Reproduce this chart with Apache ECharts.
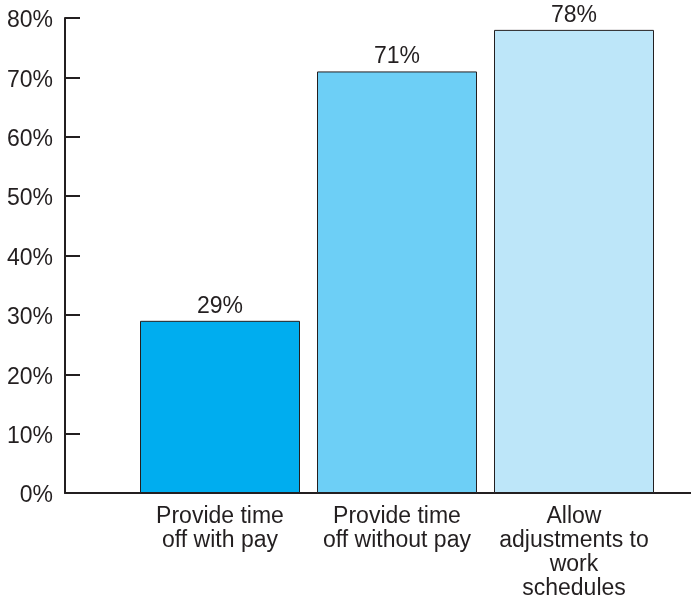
<!DOCTYPE html>
<html>
<head>
<meta charset="utf-8">
<script src="https://cdn.jsdelivr.net/npm/echarts@6/dist/echarts.min.js"></script>
<style>html,body{margin:0;padding:0;background:#fff}#c{width:691px;height:600px}</style>
</head>
<body>
<div id="c"></div>
<script>
const categories = ["Provide time\noff with pay", "Provide time\noff without pay", "Allow\nadjustments to\nwork\nschedules"];
const values = [29, 71, 78];
const barColors = ["#00adef", "#6dcff6", "#bde6f9"];
const yTicks = [0, 10, 20, 30, 40, 50, 60, 70, 80];

const ink = "#231f20";
const font = "'Liberation Sans', Arial, sans-serif";
const chart = echarts.init(document.getElementById('c'), null, {renderer: 'canvas'});
chart.setOption({
  animation: false,
  grid: [
    {left: 65, right: 0, top: 18, bottom: 107, containLabel: false, outerBoundsMode: 'none'},
    {left: 131.5, right: 28.5, top: 18, bottom: 107, containLabel: false, outerBoundsMode: 'none'}
  ],
  xAxis: [
    {gridIndex: 0, type: 'value', min: 0, max: 1,
     axisLine: {show: true, lineStyle: {color: ink, width: 2}},
     axisTick: {show: false}, axisLabel: {show: false}, splitLine: {show: false}},
    {gridIndex: 1, type: 'category', data: categories,
     axisLine: {show: false}, axisTick: {show: false},
     axisLabel: {color: ink, fontSize: 23, fontFamily: font, lineHeight: 24, margin: 12, interval: 0}}
  ],
  yAxis: [
    {gridIndex: 0, type: 'value', min: yTicks[0], max: yTicks[yTicks.length - 1], interval: 10,
     axisLine: {show: true, lineStyle: {color: ink, width: 2}},
     axisTick: {show: true, inside: true, length: 15, lineStyle: {color: ink, width: 2}},
     axisLabel: {margin: 12, formatter: '{t|{value}%}',
       rich: {t: {color: ink, fontSize: 23, fontFamily: font, padding: [6, 0, 0, 0]}}},
     splitLine: {show: false}},
    {gridIndex: 1, type: 'value', min: yTicks[0], max: yTicks[yTicks.length - 1], show: false}
  ],
  series: [{
    type: 'bar', xAxisIndex: 1, yAxisIndex: 1, barWidth: 160,
    data: values.map((v, i) => ({value: v, itemStyle: {color: barColors[i]}})),
    itemStyle: {borderColor: ink, borderWidth: 1},
    label: {show: true, position: 'top', distance: 3, color: ink, fontSize: 23, fontFamily: font, formatter: '{c}%'}
  }]
});
</script>
</body>
</html>
